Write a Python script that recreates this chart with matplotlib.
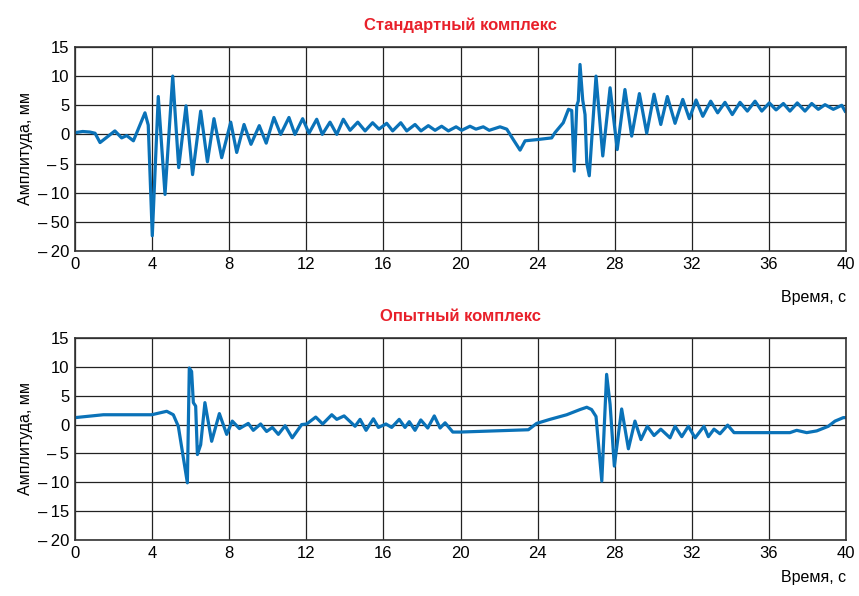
import matplotlib
matplotlib.use("Agg")
import matplotlib.pyplot as plt
from matplotlib import font_manager

# --- data ---
t_std = [0, 0.4, 0.78, 1.04, 1.3, 2.07, 2.42, 2.68, 3.03, 3.63, 3.8, 4.01, 4.32, 4.67,
         5.07, 5.38, 5.76, 6.1, 6.52, 6.87, 7.21, 7.61, 8.08, 8.39, 8.77, 9.13,
         9.56, 9.92, 10.32, 10.67, 11.1, 11.41, 11.81, 12.14, 12.54, 12.83, 13.23,
         13.58, 13.92, 14.27, 14.67, 15.05, 15.44, 15.77, 16.17, 16.48, 16.9,
         17.21, 17.64, 17.95, 18.33, 18.68, 19.02, 19.37, 19.77, 20.06, 20.49,
         20.8, 21.18, 21.49, 22.05, 22.4, 22.74, 23.09, 23.35, 23.95, 24.73,
         24.9, 25.33, 25.6, 25.77, 25.9, 26.03, 26.11, 26.2, 26.34, 26.46, 26.55,
         26.68, 27.03, 27.38, 27.76, 28.13, 28.53, 28.88, 29.28, 29.66, 30.04,
         30.39, 30.73, 31.13, 31.53, 31.87, 32.22, 32.57, 32.98, 33.34, 33.72,
         34.1, 34.5, 34.88, 35.28, 35.63, 36.02, 36.37, 36.75, 37.09, 37.47,
         37.87, 38.22, 38.56, 38.91, 39.34, 39.78, 39.95]
a_std = [0.3, 0.5, 0.4, 0.2, -1.4, 0.6, -0.6, -0.2, -1.1, 3.7, 1.6, -17.4, 6.5, -10.3,
         10.0, -5.7, 4.9, -6.9, 4.0, -4.7, 2.7, -4.0, 2.1, -3.1, 1.7, -1.7,
         1.5, -1.5, 2.9, 0.0, 2.9, 0.0, 2.7, 0.2, 2.6, 0.0, 2.1,
         0.0, 2.6, 0.7, 2.1, 0.6, 2.0, 0.9, 1.9, 0.6, 2.0,
         0.6, 1.7, 0.6, 1.5, 0.7, 1.4, 0.6, 1.3, 0.7, 1.4,
         0.9, 1.3, 0.7, 1.3, 0.9, -0.9, -2.7, -1.1, -0.9, -0.6,
         0.3, 2.0, 4.3, 4.1, -6.3, 4.9, 5.7, 12.0, 5.9, 3.4, -4.9,
         -7.1, 10.0, -3.7, 8.0, -2.6, 7.7, -0.3, 7.0, 0.2, 6.9,
         1.7, 6.5, 1.9, 6.0, 2.7, 5.9, 3.1, 5.7, 3.7, 5.5,
         3.4, 5.5, 4.0, 5.7, 4.0, 5.4, 4.2, 5.3, 4.0, 5.4,
         4.0, 5.3, 4.3, 5.1, 4.3, 5.0, 4.0]

t_exp = [0, 1.47, 3.98, 4.76, 5.1, 5.36, 5.83, 5.93, 6.05, 6.14, 6.26, 6.35, 6.52,
         6.74, 7.09, 7.49, 7.87, 8.16, 8.53, 8.99, 9.25, 9.63, 9.94, 10.24,
         10.55, 10.9, 11.27, 11.76, 12.02, 12.49, 12.85, 13.32, 13.58, 13.96,
         14.53, 14.79, 15.1, 15.48, 15.74, 16.13, 16.43, 16.82, 17.12, 17.34,
         17.64, 17.94, 18.3, 18.64, 18.94, 19.2, 19.6, 19.97, 23.52, 23.95,
         24.64, 25.51, 26.2, 26.55, 26.8, 27.03, 27.33, 27.58, 27.76, 27.98,
         28.36, 28.71, 29.05, 29.36, 29.69, 30.04, 30.39, 30.87, 31.13, 31.48,
         31.82, 32.17, 32.63, 32.86, 33.15, 33.46, 33.86, 34.19, 37.09, 37.44,
         37.96, 38.48, 39.08, 39.43, 39.86, 40.0]
a_exp = [1.2, 1.7, 1.7, 2.3, 1.7, -0.3, -10.1, 9.8, 9.2, 3.8, 3.2, -5.2, -3.5,
         3.8, -2.9, 1.9, -1.7, 0.6, -0.7, 0.2, -1.0, 0.1, -1.2, -0.5,
         -1.7, -0.2, -2.3, 0.0, 0.1, 1.3, 0.1, 1.7, 0.9, 1.5,
         -0.3, 0.9, -1.0, 1.0, -0.5, 0.1, -0.5, 0.9, -0.5, 0.5,
         -1.0, 0.8, -0.6, 1.5, -0.6, 0.3, -1.3, -1.3, -0.9, 0.2,
         0.9, 1.7, 2.6, 3.0, 2.6, 1.4, -9.8, 8.7, 3.5, -7.2,
         2.7, -4.2, 0.6, -2.6, -0.3, -1.9, -0.8, -2.3, -0.3, -2.1,
         -0.3, -2.3, -0.3, -2.1, -0.8, -1.6, -0.1, -1.4, -1.4, -1.0,
         -1.4, -1.1, -0.3, 0.6, 1.2, 1.2]

titles = ["Стандартный комплекс", "Опытный комплекс"]
x_ticks = list(range(0, 41, 4))
y_ticks = [15, 10, 5, 0, -5, -10, -15, -20]
# the top panel in the source has a misprint "−50" at the −15 gridline
y_labels_std = ["15", "10", "5", "0", "\u2013\u20095", "\u2013\u200910", "\u2013\u200950", "\u2013\u200920"]
y_labels_exp = ["15", "10", "5", "0", "\u2013\u20095", "\u2013\u200910", "\u2013\u200915", "\u2013\u200920"]

# narrow bold font for titles if available
names = {f.name for f in font_manager.fontManager.ttflist}
title_font = "Liberation Sans Narrow" if "Liberation Sans Narrow" in names else "Liberation Sans"

plt.rcParams["font.family"] = ["Liberation Sans", "DejaVu Sans"]

line_color = "#0a72b8"
fig = plt.figure(figsize=(8.59, 5.96), dpi=100)
ax1 = fig.add_axes([0.0873, 0.5789, 0.8976, 0.3423])
ax2 = fig.add_axes([0.0873, 0.0940, 0.8976, 0.3389])

panels = [(ax1, t_std, a_std, titles[0], y_labels_std, -47),
          (ax2, t_exp, a_exp, titles[1], y_labels_exp, -38)]
for ax, t, a, title, ylabs, xl_off in panels:
    ax.plot(t, a, color=line_color, lw=2.3, solid_joinstyle="round")
    ax.set_xlim(0, 40)
    ax.set_ylim(-20, 15)
    ax.set_xticks(x_ticks)
    ax.set_yticks(y_ticks)
    ax.set_yticklabels(ylabs)
    ax.tick_params(length=0, labelsize=12, pad=4)
    ax.grid(True, color="#222222", lw=0.9)
    for s in ax.spines.values():
        s.set_color("#333333")
        s.set_linewidth(1.2)
    ax.set_ylabel("Амплитуда, мм", fontsize=11.5, labelpad=4)
    ax.set_title(title, color="#e8202a", fontsize=12, fontweight="bold",
                 family=title_font, pad=12)
    ax.annotate("Время, с", xy=(1.0, 0.0), xycoords="axes fraction",
                xytext=(0, xl_off), textcoords="offset pixels",
                ha="right", va="center", fontsize=11.5)

fig.savefig("out.png", dpi=100, facecolor="white")
